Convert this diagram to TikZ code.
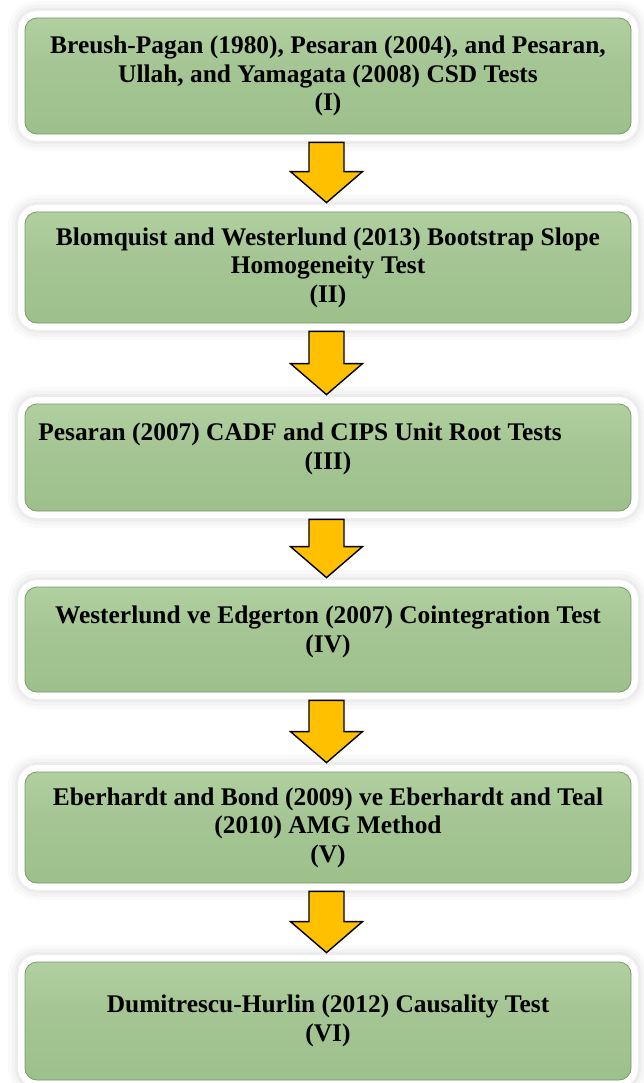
\documentclass[tikz,border=0pt]{standalone}
\usepackage{fontspec}
\setmainfont{Liberation Serif}
\usetikzlibrary{calc}
\definecolor{gold}{HTML}{FFC000}
\definecolor{gEdge}{HTML}{78996A}
\definecolor{gLow}{HTML}{97BC85}
\definecolor{gMid}{HTML}{A5C694}
\definecolor{gTop}{HTML}{BDD9AB}
\pgfdeclareverticalshading{boxgreen}{100bp}{color(0bp)=(gEdge);color(4bp)=(gLow);color(55bp)=(gMid);color(94bp)=(gTop);color(100bp)=(gTop)}

\begin{document}
\begin{tikzpicture}[x=1pt,y=-1pt,every node/.style={font=\bfseries\fontsize{25.4}{28.5}\selectfont},box/.style={draw=gEdge,line width=.8pt,rounded corners=12pt,shading=boxgreen,minimum width=606pt,align=center,inner sep=0pt,preaction={draw=black,opacity=.02,line width=34pt},preaction={draw=black,opacity=.025,line width=27pt},preaction={draw=black,opacity=.03,line width=20pt},preaction={draw=white,line width=14pt}},barrow/.style={draw=black,fill=gold,line width=1.4pt,line join=miter}]
\useasboundingbox (0,0) rectangle (643,1083);
\node[box,minimum height=116pt] (b1) at (328,76) {Breush-Pagan (1980), Pesaran (2004), and Pesaran,\\Ullah, and Yamagata (2008) CSD Tests\\(I)};
\node[box,minimum height=111pt] (b2) at (328,267.5) {Blomquist and Westerlund (2013) Bootstrap Slope\\Homogeneity Test\\(II)};
\node[box,minimum height=107pt,text depth=23pt] (b3) at (328,457.5) {Pesaran (2007) CADF and CIPS Unit Root Tests\hspace*{56pt}\\(III)};
\node[box,minimum height=105pt,text depth=21pt] (b4) at (328,639.5) {Westerlund ve Edgerton (2007) Cointegration Test\\(IV)};
\node[box,minimum height=111pt] (b5) at (328,827.5) {Eberhardt and Bond (2009) ve Eberhardt and Teal\\(2010) AMG Method\\(V)};
\node[box,minimum height=118pt] (b6) at (328,1021) {Dumitrescu-Hurlin (2012) Causality Test\\(VI)};
\foreach \a/\b in {b1/b2,b2/b3,b3/b4,b4/b5,b5/b6}
  \draw[barrow] ($(\a.south)+(-19,8)$) -- ($(\a.south)+(16,8)$) -- ($(\b.north)+(16,-40)$) -- ($(\b.north)+(34.5,-40)$) -- ($(\b.north)+(-1.5,-9)$) -- ($(\b.north)+(-37.5,-40)$) -- ($(\b.north)+(-19,-40)$) -- cycle;
\end{tikzpicture}
\end{document}
